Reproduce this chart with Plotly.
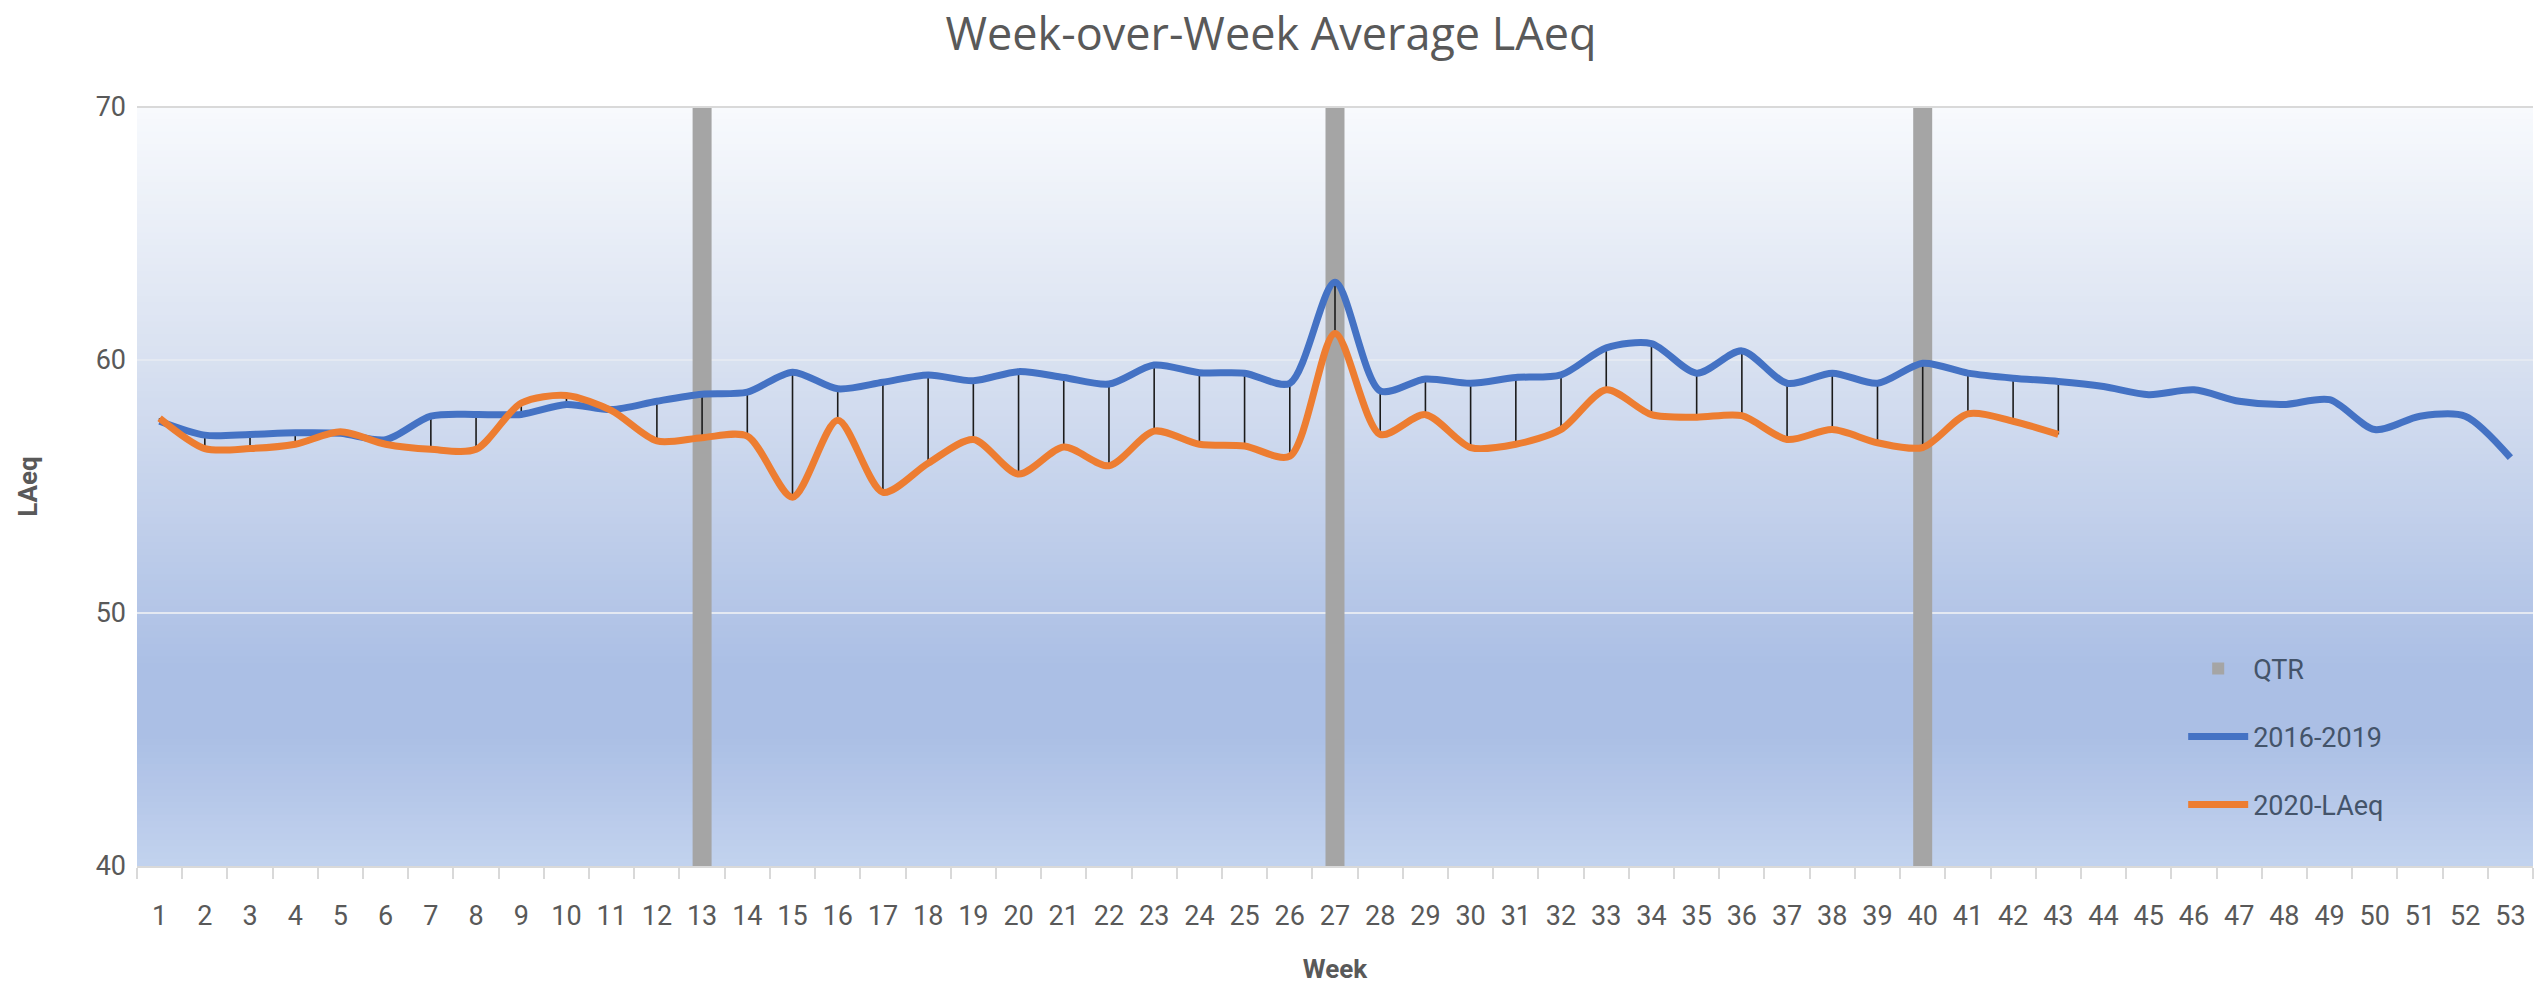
import plotly.graph_objects as go

# ---------------- data ----------------
weeks = [str(w) for w in range(1, 54)]

avg_2016_2019 = [57.58, 57.03, 57.06, 57.12, 57.10, 56.85, 57.78, 57.85, 57.85, 58.24,
                 58.04, 58.37, 58.65, 58.73, 59.52, 58.86, 59.12, 59.41, 59.18, 59.54,
                 59.31, 59.05, 59.80, 59.50, 59.48, 59.08, 63.07, 58.78, 59.25, 59.08,
                 59.31, 59.41, 60.48, 60.65, 59.48, 60.36, 59.08, 59.48, 59.08, 59.87,
                 59.48, 59.28, 59.15, 58.95, 58.63, 58.82, 58.37, 58.24, 58.43, 57.25,
                 57.78, 57.78, 56.14]

laeq_2020 = [57.70, 56.50, 56.50, 56.67, 57.16, 56.67, 56.47, 56.47, 58.30, 58.60,
             58.00, 56.80, 56.93, 56.99, 54.58, 57.62, 54.77, 55.92, 56.86, 55.49,
             56.56, 55.82, 57.19, 56.67, 56.60, 56.20, 61.05, 57.06, 57.84, 56.54,
             56.67, 57.25, 58.82, 57.84, 57.74, 57.80, 56.86, 57.25, 56.73, 56.54,
             57.87, 57.58, 57.06]

qtr_weeks = ["13", "27", "40"]
qtr_values = [70, 70, 70]

y_ticks = [40, 50, 60, 70]

# ---------------- styling ----------------
TXT = "#595959"
TICK_FONT = "Liberation Sans Narrow, Roboto, Arial"
BLUE = "#4472C4"
ORANGE = "#ED7D31"
GRAY = "#A5A5A5"

fig = go.Figure()

# quarter markers
fig.add_trace(go.Bar(
    x=qtr_weeks, y=qtr_values, name="QTR", marker=dict(color=GRAY, line=dict(width=0)),
    width=0.42, legendgroup="a", hoverinfo="skip"))

# high-low drop lines between the two series
dx, dy = [], []
for i, v in enumerate(laeq_2020):
    dx += [weeks[i], weeks[i], None]
    dy += [avg_2016_2019[i], v, None]
fig.add_trace(go.Scatter(x=dx, y=dy, mode="lines", line=dict(color="#1b1b1b", width=1.6),
                         showlegend=False, hoverinfo="skip"))

fig.add_trace(go.Scatter(
    x=weeks, y=avg_2016_2019, name="2016-2019", mode="lines",
    line=dict(color=BLUE, width=7, shape="spline", smoothing=0.8), legendgroup="b"))
fig.add_trace(go.Scatter(
    x=weeks[:len(laeq_2020)], y=laeq_2020, name="2020-LAeq", mode="lines",
    line=dict(color=ORANGE, width=7, shape="spline", smoothing=0.8), legendgroup="c"))

# gradient plot-area background (Excel "light gradient" fill)
stops = [(0.0, (248, 250, 253)), (0.32, (218, 226, 241)), (0.74, (171, 191, 229)),
         (0.83, (171, 191, 229)), (1.0, (194, 210, 238))]


def col_at(t):
    for (t0, c0), (t1, c1) in zip(stops[:-1], stops[1:]):
        if t0 <= t <= t1:
            f = 0 if t1 == t0 else (t - t0) / (t1 - t0)
            return "rgb(%d,%d,%d)" % tuple(round(a + (b - a) * f) for a, b in zip(c0, c1))
    return "rgb(%d,%d,%d)" % stops[-1][1]


N = 120
shapes = []
for k in range(N):
    t0 = k / N
    t1 = (k + 1) / N
    shapes.append(dict(type="rect", xref="x domain", yref="y domain",
                       x0=0, x1=1, y0=1 - t1, y1=1 - t0 + 0.001,
                       fillcolor=col_at((t0 + t1) / 2), line=dict(width=0), layer="below"))

fig.update_layout(
    width=2542, height=988,
    paper_bgcolor="white", plot_bgcolor="#d0dcf0",
    margin=dict(l=137, r=9, t=107, b=116, pad=0),
    shapes=shapes,
    title=dict(text="Week-over-Week Average LAeq", x=0.5, xanchor="center", y=0.965,
               yanchor="middle",
               font=dict(family="Open Sans, Lato, Arial", size=45, color=TXT)),
    xaxis=dict(type="category", categoryorder="array", categoryarray=weeks,
               range=[-0.5, 52.5], tickson="boundaries", ticks="outside", ticklen=11,
               tickcolor="#d9d9d9", tickwidth=1.5, showgrid=False, showline=True,
               linecolor="#d9d9d9", linewidth=2,
               tickfont=dict(family=TICK_FONT, size=27, color=TXT), ticklabelstandoff=25,
               title=dict(text="<b>Week</b>", standoff=28,
                          font=dict(family=TICK_FONT, size=26, color=TXT))),
    yaxis=dict(range=[40, 70], tickvals=y_ticks, showgrid=True, gridcolor="#e4e9f2",
               gridwidth=2, zeroline=False, showline=False, ticks="",
               tickfont=dict(family=TICK_FONT, size=27, color=TXT), ticklabelstandoff=10,
               title=dict(text="<b>LAeq</b>", standoff=50,
                          font=dict(family=TICK_FONT, size=26, color=TXT))),
    legend=dict(x=0.854, y=0.292, xanchor="left", yanchor="top", bgcolor="rgba(0,0,0,0)",
                traceorder="grouped", tracegroupgap=30, itemwidth=60,
                font=dict(family=TICK_FONT, size=27, color="#44546A")),
    showlegend=True,
)

# top border line of the plot area
fig.add_shape(type="line", xref="x domain", yref="y domain", x0=0, x1=1, y0=1, y1=1,
              line=dict(color="#d9d9d9", width=2), layer="above")

fig.write_html("out.html", config={"displayModeBar": False},
               post_script="document.body.style.margin='0';document.body.style.overflow='hidden';")
